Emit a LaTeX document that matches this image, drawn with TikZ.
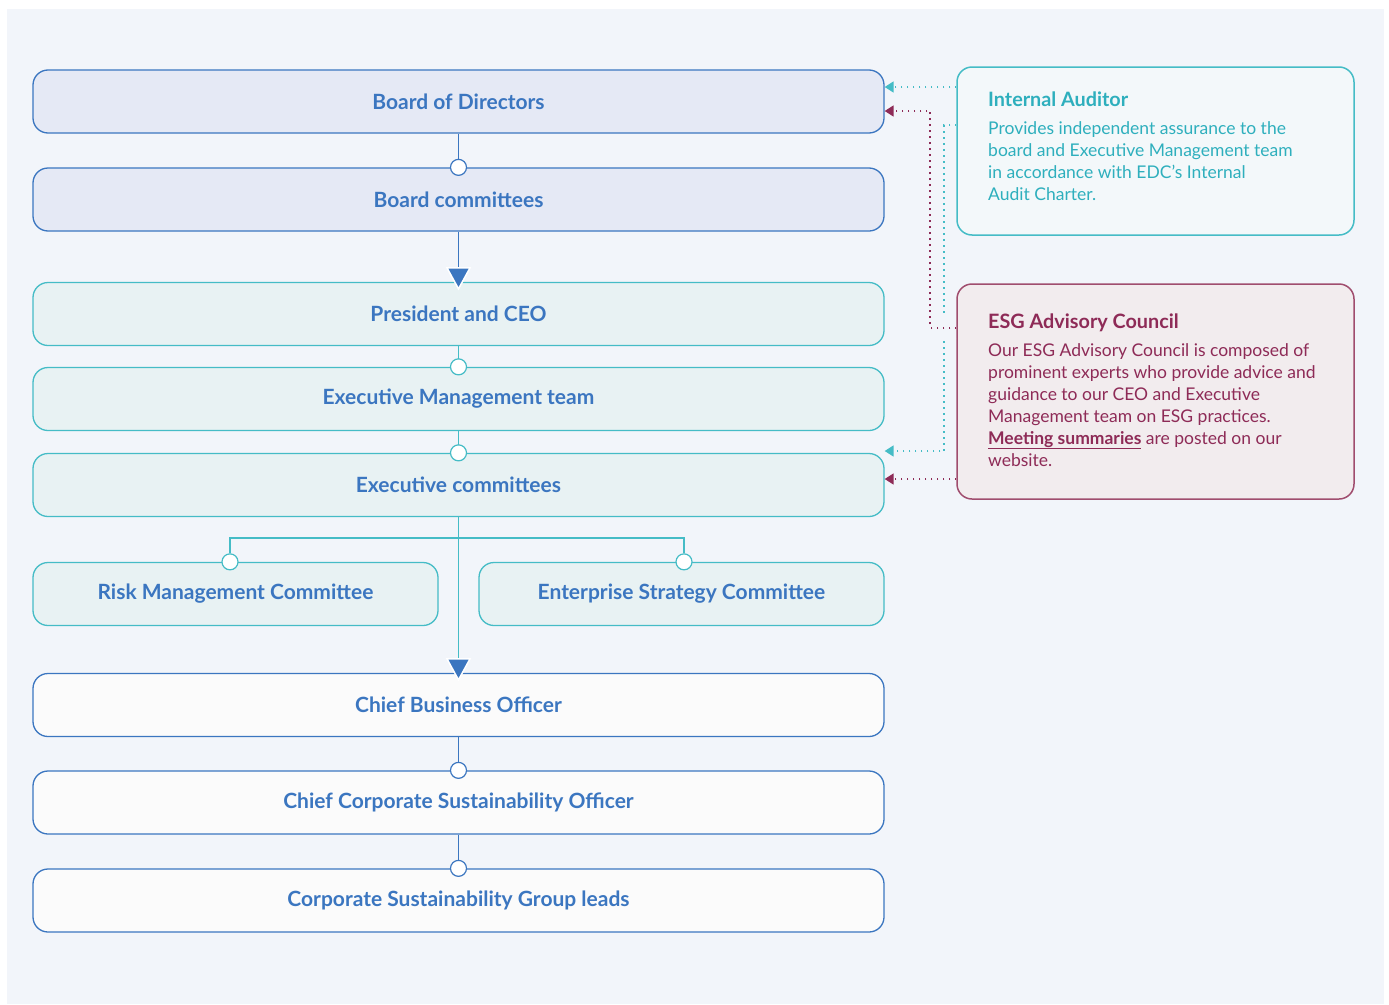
\documentclass[tikz,border=0pt]{standalone}
\usepackage{fontspec}
\setmainfont{Lato}
\usetikzlibrary{positioning,arrows.meta}

\definecolor{pagebg}{HTML}{F2F5FA}
\definecolor{govblue}{HTML}{3B76C0}
\definecolor{govteal}{HTML}{45BCC6}
\definecolor{tealtext}{HTML}{2EAFBD}
\definecolor{esgred}{HTML}{8E2B57}
\definecolor{esgline}{HTML}{A04D6E}
\definecolor{boardfill}{HTML}{E5E9F5}
\definecolor{execfill}{HTML}{E8F2F3}
\definecolor{stafffill}{HTML}{FBFBFB}
\definecolor{auditfill}{HTML}{F3F8FA}
\definecolor{esgfill}{HTML}{F2ECEE}

% blue triangle on the top edge of a box
\newcommand\downtip[1]{\filldraw[fill=govblue,draw=white,line width=1.5pt]([yshift=-7pt]#1)--++(-11.5,-21)--++(23,0)--cycle;}

\begin{document}
\begin{tikzpicture}[x=1pt,y=-1pt,
    lvl/.style={draw,rounded corners=15pt,line width=1.3pt,minimum height=63pt,minimum width=851pt,inner sep=0pt,font=\fontsize{21}{25}\selectfont\bfseries,text=govblue},
    board/.style={lvl,draw=govblue,fill=boardfill},
    exec/.style={lvl,draw=govteal,fill=execfill},
    staff/.style={lvl,draw=govblue,fill=stafffill},
    knot/.style={circle,draw,fill=white,line width=1.2pt,minimum size=16pt,inner sep=0pt},
    link/.style={line width=1.3pt},
    notebox/.style={draw,rounded corners=15pt,line width=1.5pt,minimum width=397pt,inner sep=0pt},
    note/.style={anchor=base west,align=left,inner sep=0pt,font=\fontsize{17.5}{22}\selectfont},
    dots/.style={line width=1.7pt,dash pattern=on 1.7pt off 4.3pt,-{Triangle[length=9pt,width=11pt]}}]
    \useasboundingbox(0,0)rectangle(1389,1004);
    \fill[white](0,0)rectangle(1389,1004);
    \fill[pagebg](7,9)rectangle(1384,1004);
    % main chain
    \node[board](bod)at(458.5,101.5){Board of Directors};
    \node[board](bc)at(458.5,199.5){Board committees};
    \node[exec](ceo)at(458.5,314){President and CEO};
    \node[exec](emt)at(458.5,399){Executive Management team};
    \node[exec](exc)at(458.5,485){Executive committees};
    \node[exec,minimum width=405pt](rmc)at(235.5,594){Risk Management Committee};
    \node[exec,minimum width=405pt](esc)at(681.5,594){Enterprise Strategy Committee};
    \node[staff](cbo)at(458.5,705){Chief Business Officer};
    \node[staff](ccso)at(458.5,802.5){Chief Corporate Sustainability Officer};
    \node[staff](csg)at(458.5,900.5){Corporate Sustainability Group leads};
    % side notes
    \node[notebox,draw=govteal,fill=auditfill,minimum height=168pt](ia)at(1155.5,151){};
    \node[notebox,draw=esgline,fill=esgfill,minimum height=215pt](esg)at(1155.5,391.5){};
    \node[note,text=tealtext](iatext)at(988,200){{\fontsize{19.8}{22}\selectfont\bfseries Internal Auditor}\\[6pt]
        Provides independent assurance to the\\board and Executive Management team\\in accordance with EDC’s Internal\\Audit Charter.};
    \node[note,text=esgred](esgtext)at(988,466){{\fontsize{19.8}{22}\selectfont\bfseries ESG Advisory Council}\\[6pt]
        Our ESG Advisory Council is composed of\\prominent experts who provide advice and\\guidance to our CEO and Executive\\Management team on ESG practices.\\
        \underline{\bfseries Meeting summaries} are posted on our\\website.};
    % links
    \draw[link,govblue](bod)--(bc);
    \draw[link,govblue](bc)--(ceo);
    \draw[link,govteal](ceo)--(emt);
    \draw[link,govteal](emt)--(exc);
    \draw[link,govteal](exc.south)--(cbo.north);
    \draw[link,govblue](cbo)--(ccso);
    \draw[link,govblue](ccso)--(csg);
    \node[knot,draw=govblue](k1)at(bc.north){};
    \node[knot,draw=govteal](k2)at(emt.north){};
    \node[knot,draw=govteal](k3)at(exc.north){};
    \node[knot,draw=govteal](k4)at([xshift=-5.5pt]rmc.north){};
    \node[knot,draw=govteal](k5)at([xshift=2.5pt]esc.north){};
    \node[knot,draw=govblue](k6)at(ccso.north){};
    \node[knot,draw=govblue](k7)at(csg.north){};
    \coordinate(fork)at(458.5,538);
    \draw[link,govteal](k4.north)|-(fork)-|(k5.north);
    \downtip{ceo.north}
    \downtip{cbo.north}
    % dotted reporting lines
    \draw[dots,govteal]([yshift=64pt]ia.west)--([yshift=64pt]ia.west-|bod.east);
    \draw[dots,govteal]([yshift=26pt]ia.west)--++(-12,0)|-([yshift=34pt]exc.east);
    \draw[pagebg,line width=22pt]([yshift=63.5pt]esg.west)--++(-16,0);
    \draw[dots,esgred]([yshift=63.5pt]esg.west)--++(-26,0)|-([yshift=-9.5pt]bod.east);
    \draw[dots,esgred]([yshift=-87.5pt]esg.west)--([yshift=-87.5pt]esg.west-|exc.east);
\end{tikzpicture}
\end{document}
